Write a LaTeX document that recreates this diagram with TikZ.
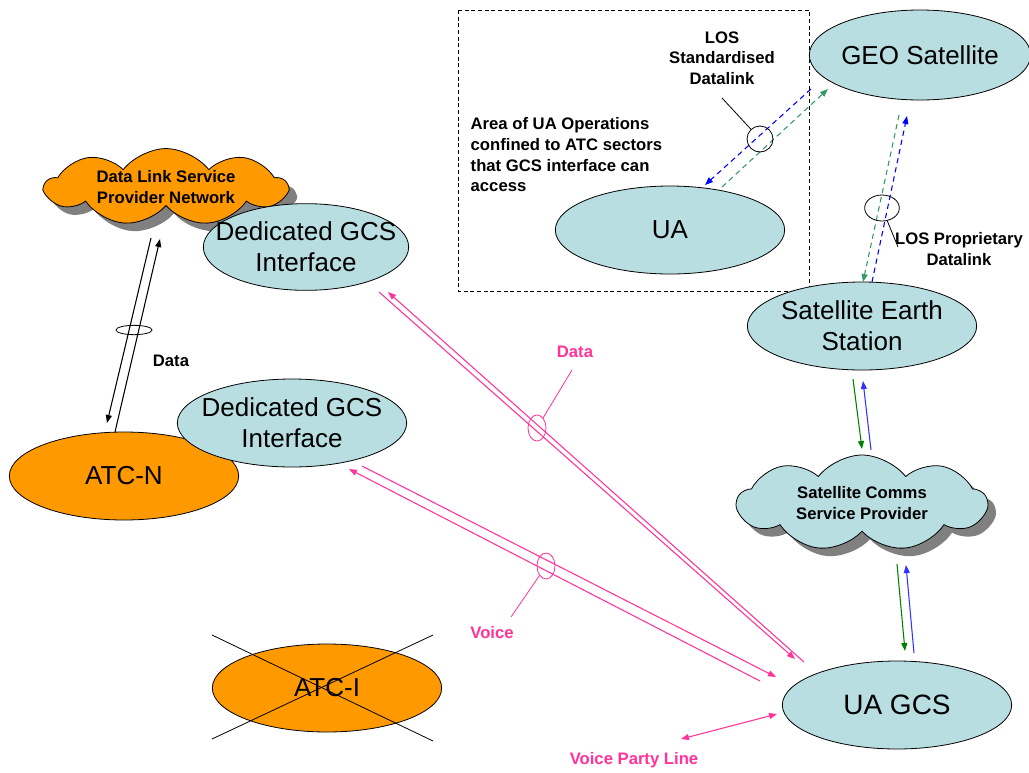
\documentclass[tikz,border=0pt]{standalone}
\usepackage{fontspec}
\setmainfont{Liberation Sans}
\usetikzlibrary{positioning, arrows.meta, shapes.geometric, shapes.symbols, shadows}

\definecolor{nodeblue}{RGB}{184,222,226}
\definecolor{atcorange}{RGB}{255,153,0}
\definecolor{linkpink}{RGB}{255,51,153}
\definecolor{linkgreen}{RGB}{0,128,0}
\definecolor{linkblue}{RGB}{51,51,255}
\definecolor{losgreen}{RGB}{51,153,102}
\definecolor{losblue}{RGB}{0,0,255}

\begin{document}
\begin{tikzpicture}[
    x=0.75pt, y=-0.75pt,
    % Node styles
    unit/.style={
        ellipse,
        draw=black,
        line width=0.6pt,
        fill=nodeblue,
        minimum width=172pt,
        minimum height=66pt,
        inner xsep=-40pt,
        inner ysep=-12pt,
        align=center,
        font=\fontsize{19.5}{23}\selectfont
    },
    atc/.style={unit, fill=atcorange},
    network/.style={
        cloud,
        cloud puffs=9,
        cloud puff arc=105,
        cloud ignores aspect,
        draw=black,
        line width=0.6pt,
        inner sep=0pt,
        align=center,
        font=\fontsize{12.5}{15.5}\selectfont\bfseries,
        drop shadow={shadow xshift=6pt, shadow yshift=-6pt, fill=black!50, opacity=1}
    },
    linktext/.style={
        align=center,
        font=\fontsize{12.5}{15.5}\selectfont\bfseries
    },
    pinktext/.style={linktext, text=linkpink},
    ring/.style={ellipse, draw, inner sep=0pt, line width=0.6pt},
    tip/.style={-{Triangle[length=6pt, width=4.5pt]}},
    pinkline/.style={tip, draw=linkpink, line width=0.8pt},
    solidlink/.style={tip, line width=0.8pt},
    loslink/.style={tip, line width=0.8pt, dash pattern=on 4pt off 3pt}
]
\useasboundingbox (0,0) rectangle (1029,772);

% === Operations area ===
\draw[dashed, line width=0.6pt, dash pattern=on 3pt off 2pt] (458,10) rectangle (809,291);

% === Ground side, left ===
\node[network, fill=atcorange, minimum width=181pt, minimum height=52pt] (dlsp) at (166,187)
    {Data Link Service\\Provider Network};
\node[unit, minimum width=154pt, minimum height=65pt] (dgcsa) at (306,247) {Dedicated GCS\\Interface};
\node[atc] (atcn) at (124,476) {ATC-N};
\node[unit] (dgcsb) at (292,423) {Dedicated GCS\\Interface};
\node[atc] (atci) at (327,688) {ATC-I};
\draw[line width=0.6pt] (atci.center) ++(-115,-53) -- ++(221,106);
\draw[line width=0.6pt] (atci.center) ++(-115,51) -- ++(221,-104);

% === Satellite chain, right ===
\node[unit, minimum width=166pt, minimum height=67.5pt] (geo) at (920,55) {GEO Satellite};
\node[unit] (ua) at (670,230) {UA};
\node[unit] (ses) at (862,326) {Satellite Earth\\Station};
\node[network, fill=nodeblue, minimum width=187pt, minimum height=72pt] (scsp) at (862,503)
    {Satellite Comms\\Service Provider};
\node[unit, font=\fontsize{21}{25}\selectfont] (gcs) at (897,705) {UA GCS};

% === Link end points ===
\coordinate (dlA) at (151,238);  \coordinate (dlB) at (107,423);
\coordinate (dlC) at (115,432);  \coordinate (dlD) at (160,239);
\coordinate (stdA) at (811,89);  \coordinate (stdB) at (705,185);
\coordinate (stdC) at (722,187); \coordinate (stdD) at (828,89);
\coordinate (prA) at (899,115);  \coordinate (prB) at (863,282);
\coordinate (prC) at (872,282);  \coordinate (prD) at (907,116);
\coordinate (seA) at (853,379);  \coordinate (seB) at (862,449);
\coordinate (seC) at (871,450);  \coordinate (seD) at (863,381);
\coordinate (spA) at (897,564);  \coordinate (spB) at (905,651);
\coordinate (spC) at (914,653);  \coordinate (spD) at (906,565);
\coordinate (daA) at (804,662);  \coordinate (daB) at (388,292);
\coordinate (daC) at (379,292);  \coordinate (daD) at (795,659);
\coordinate (voA) at (362,466);  \coordinate (voB) at (776,677);
\coordinate (voC) at (760,681);  \coordinate (voD) at (349,469);
\coordinate (vpA) at (681,739);  \coordinate (vpB) at (777,714);

% === Links ===
\draw[solidlink] (dlA) -- (dlB);
\draw[solidlink] (dlC) -- (dlD);
\draw[loslink, draw=losblue] (stdA) -- (stdB);
\draw[loslink, draw=losgreen] (stdC) -- (stdD);
\draw[loslink, draw=losgreen] (prA) -- (prB);
\draw[loslink, draw=losblue] (prC) -- (prD);
\draw[solidlink, draw=linkgreen] (seA) -- (seB);
\draw[solidlink, draw=linkblue] (seC) -- (seD);
\draw[solidlink, draw=linkgreen] (spA) -- (spB);
\draw[solidlink, draw=linkblue] (spC) -- (spD);
\draw[pinkline] (daA) -- (daB);
\draw[pinkline] (daC) -- (daD);
\draw[pinkline] (voA) -- (voB);
\draw[pinkline] (voC) -- (voD);
\draw[pinkline, {Triangle[length=6pt, width=4.5pt]}-{Triangle[length=6pt, width=4.5pt]}] (vpA) -- (vpB);

% === Bundles and labels ===
\node[ring, minimum width=27pt, minimum height=7pt] (dlring) at (134,330) {};
\node[linktext] (dltxt) at (171,361) {Data};

\node[ring, minimum width=19.5pt, minimum height=19.5pt] (stdring) at (760,139) {};
\node[linktext] (stdtxt) at (722,58) {LOS\\Standardised\\Datalink};
\coordinate (stdend) at (722,98);
\draw[line width=0.6pt] (stdring) -- (stdend);

\node[ring, minimum width=26pt, minimum height=19.5pt] (prring) at (882,208) {};
\node[linktext] (prtxt) at (959,249) {LOS Proprietary\\Datalink};
\coordinate (prend) at (898,247);
\draw[line width=0.6pt] (prring) -- (prend);

\node[ring, draw=linkpink, minimum width=13.5pt, minimum height=19.5pt] (daring) at (537,428) {};
\node[pinktext] (datxt) at (575,352) {Data};
\coordinate (daend) at (572,370);
\draw[linkpink, line width=0.6pt] (daring) -- (daend);

\node[ring, draw=linkpink, minimum width=13.5pt, minimum height=19.5pt] (voring) at (546,566) {};
\node[pinktext] (votxt) at (492,633) {Voice};
\coordinate (voend) at (511,617);
\draw[linkpink, line width=0.6pt] (voring) -- (voend);

\node[pinktext] (vptxt) at (634,760) {Voice Party Line};

\node[linktext, align=left, anchor=west] (areatxt) at (466,155)
    {Area of UA Operations\\confined to ATC sectors\\that GCS interface can\\access};

\end{tikzpicture}
\end{document}
